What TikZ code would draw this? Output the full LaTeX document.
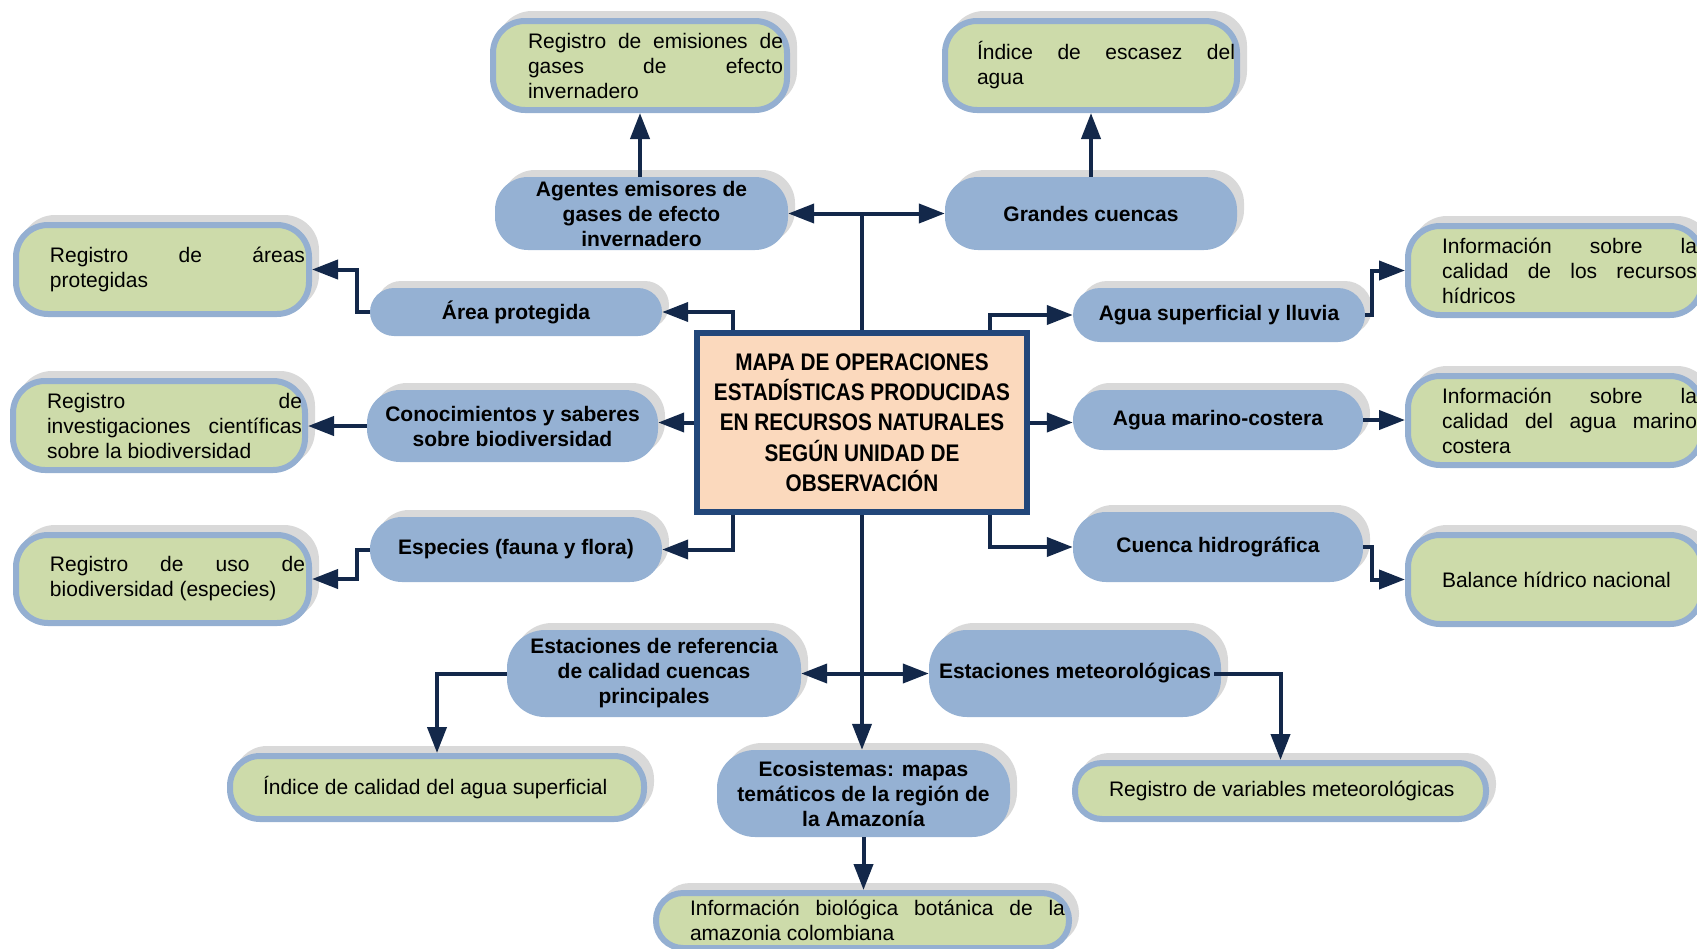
\documentclass[tikz,border=0pt]{standalone}
\usepackage{fontspec}
\setmainfont{Liberation Sans}
\newfontfamily\titlefont[FakeStretch=0.865]{Liberation Sans}
\usetikzlibrary{shadows,arrows.meta,calc}
\definecolor{bluefill}{HTML}{95B1D3}
\definecolor{blueline}{HTML}{94AFD1}
\definecolor{greenfill}{HTML}{CDDBAA}
\definecolor{shadowgray}{HTML}{D9D9D9}
\definecolor{arrowcol}{HTML}{13284A}
\definecolor{boxline}{HTML}{22477A}
\definecolor{boxfill}{HTML}{FBD9BD}
\newcommand\jline[1]{\makebox[\linewidth][s]{#1}}
\newcommand\gcontent[4]{\makebox[#1][l]{\hspace*{#2}\parbox{#3}{#4}}}
\tikzset{
  bnode/.style={fill=bluefill, inner sep=0pt, align=center, rounded corners=33pt,
    font=\bfseries\fontsize{21}{25}\selectfont,
    general shadow={shadow xshift=7pt, shadow yshift=7pt, fill=shadowgray}},
  gnode/.style={draw=blueline, line width=6pt, fill=greenfill, inner sep=0pt, rounded corners=32pt,
    font=\fontsize{21}{25}\selectfont,
    general shadow={shadow xshift=7pt, shadow yshift=7pt, fill=shadowgray, draw=shadowgray, line width=6pt}},
  mainbox/.style={draw=boxline, line width=6pt, fill=boxfill, inner sep=0pt, align=center,
    font=\titlefont\bfseries\fontsize{24}{30.3}\selectfont},
  arr/.style={draw=arrowcol, line width=4pt, -{Triangle[length=26pt,width=19pt]}},
  ln/.style={draw=arrowcol, line width=4pt}
}
\begin{document}
\begin{tikzpicture}[x=1pt,y=-1pt]
\useasboundingbox (0,0) rectangle (1697,948);
\clip (0,0) rectangle (1697,948);

% central box
\node[mainbox, minimum width=330pt, minimum height=179pt] (box) at (862,422.5)
  {MAPA DE OPERACIONES\\ESTADÍSTICAS PRODUCIDAS\\EN RECURSOS NATURALES\\SEGÚN UNIDAD DE\\OBSERVACIÓN};

% blue nodes
\node[bnode, minimum width=293pt, minimum height=73pt] (agentes) at (641.5,213.5)
  {Agentes emisores de\\gases de efecto\\invernadero};
\node[bnode, minimum width=292pt, minimum height=73pt] (grandes) at (1091,213.5)
  {Grandes cuencas};
\node[bnode, minimum width=292pt, minimum height=48pt, rounded corners=24pt] (area) at (516,312)
  {Área protegida};
\node[bnode, minimum width=291pt, minimum height=72pt] (con) at (512.5,426)
  {Conocimientos y saberes\\sobre biodiversidad};
\node[bnode, minimum width=292pt, minimum height=65pt, rounded corners=32pt] (esp) at (516,549.5)
  {Especies (fauna y flora)};
\node[bnode, minimum width=292pt, minimum height=54pt, rounded corners=27pt] (asup) at (1219,315)
  {Agua superficial y lluvia};
\node[bnode, minimum width=290pt, minimum height=60pt, rounded corners=30pt] (amar) at (1218,420)
  {Agua marino-costera};
\node[bnode, minimum width=290pt, minimum height=70pt] (cuen) at (1218,547)
  {Cuenca hidrográfica};
\node[bnode, minimum width=294pt, minimum height=87pt, rounded corners=38pt] (estref) at (654,673.5)
  {Estaciones de referencia\\de calidad cuencas\\principales};
\node[bnode, minimum width=292pt, minimum height=87pt, rounded corners=38pt] (estmet) at (1075,673.5)
  {Estaciones meteorológicas};
\node[bnode, minimum width=293pt, minimum height=87pt, rounded corners=38pt] (eco) at (863.5,793.5)
  {Ecosistemas: mapas\\temáticos de la región de\\la Amazonía};

% green nodes
\node[gnode, minimum width=294pt, minimum height=89pt] (gemis) at (640,65.5)
  {\gcontent{294pt}{35pt}{255pt}{\jline{Registro de emisiones de}\\\jline{gases de efecto}\\invernadero}};
\node[gnode, minimum width=292pt, minimum height=89pt] (gesc) at (1091,65.5)
  {\gcontent{292pt}{32pt}{258pt}{\jline{Índice de escasez del}\\agua}};
\node[gnode, minimum width=293pt, minimum height=89pt] (gareas) at (162.5,269.5)
  {\gcontent{293pt}{34pt}{255pt}{\jline{Registro de áreas}\\protegidas}};
\node[gnode, minimum width=292pt, minimum height=89pt] (ginv) at (159,425.5)
  {\gcontent{292pt}{34pt}{255pt}{\jline{Registro de}\\\jline{investigaciones científicas}\\sobre la biodiversidad}};
\node[gnode, minimum width=293pt, minimum height=88pt] (guso) at (162.5,579)
  {\gcontent{293pt}{34pt}{255pt}{\jline{Registro de uso de}\\biodiversidad (especies)}};
\node[gnode, minimum width=294pt, minimum height=89pt] (grec) at (1555,270.5)
  {\gcontent{294pt}{34pt}{255pt}{\jline{Información sobre la}\\\jline{calidad de los recursos}\\hídricos}};
\node[gnode, minimum width=294pt, minimum height=89pt] (gmar) at (1555,420.5)
  {\gcontent{294pt}{34pt}{255pt}{\jline{Información sobre la}\\\jline{calidad del agua marino}\\costera}};
\node[gnode, minimum width=294pt, minimum height=89pt] (gbal) at (1555,579.5)
  {\gcontent{294pt}{34pt}{255pt}{Balance hídrico nacional}};
\node[gnode, minimum width=414pt, minimum height=63pt, rounded corners=30pt] (gcal) at (437,787.5)
  {\gcontent{414pt}{33pt}{370pt}{Índice de calidad del agua superficial}};
\node[gnode, minimum width=411pt, minimum height=56pt, rounded corners=27pt] (gvar) at (1280.5,791)
  {\gcontent{411pt}{34pt}{370pt}{Registro de variables meteorológicas}};
\node[gnode, minimum width=413pt, minimum height=55pt, rounded corners=27pt] (gbio) at (862.5,920.5)
  {\gcontent{413pt}{34pt}{375pt}{\jline{Información biológica botánica de la}\\amazonia colombiana}};

% junction coordinates
\coordinate (topj) at (box.north |- agentes.east);
\coordinate (botj) at (box.south |- estref.east);

% connectors from the central box
\draw[ln] (box.north) -- (topj);
\draw[arr] (topj) -- (agentes.east);
\draw[arr] (topj) -- (grandes.west);
\draw[arr] ([xshift=-129pt]box.north) |- (area.east);
\draw[arr] (box.west) -- (box.west -| con.east);
\draw[arr] ([xshift=-129pt]box.south) |- (esp.east);
\draw[arr] ([xshift=128pt]box.north) |- (asup.west);
\draw[arr] (box.east) -- (box.east -| amar.west);
\draw[arr] ([xshift=128pt]box.south) |- (cuen.west);
\draw[arr] (box.south) -- (box.south |- eco.north);
\draw[arr] (botj) -- (estref.east);
\draw[arr] (botj) -- (estmet.west);

% connectors to the green nodes
\draw[arr] (agentes.north -| gemis.south) -- (gemis.south);
\draw[arr] (grandes.north) -- (gesc.south);
\draw[arr] (area.west) -- ++(-13,0) |- (gareas.east);
\draw[arr] (con.west) -- (con.west -| ginv.east);
\draw[arr] (esp.west) -- ++(-13,0) |- (guso.east);
\draw[arr] (asup.east) -- ++(7,0) |- (grec.west);
\draw[arr] (amar.east) -- (amar.east -| gmar.west);
\draw[arr] (cuen.east) -- ++(9,0) |- (gbal.west);
\draw[arr] (estref.west) -| (gcal.north);
\draw[arr] ([xshift=-7pt]estmet.east) -| (gvar.north);
\draw[arr] (eco.south) -- (eco.south |- gbio.north);
\end{tikzpicture}
\end{document}
